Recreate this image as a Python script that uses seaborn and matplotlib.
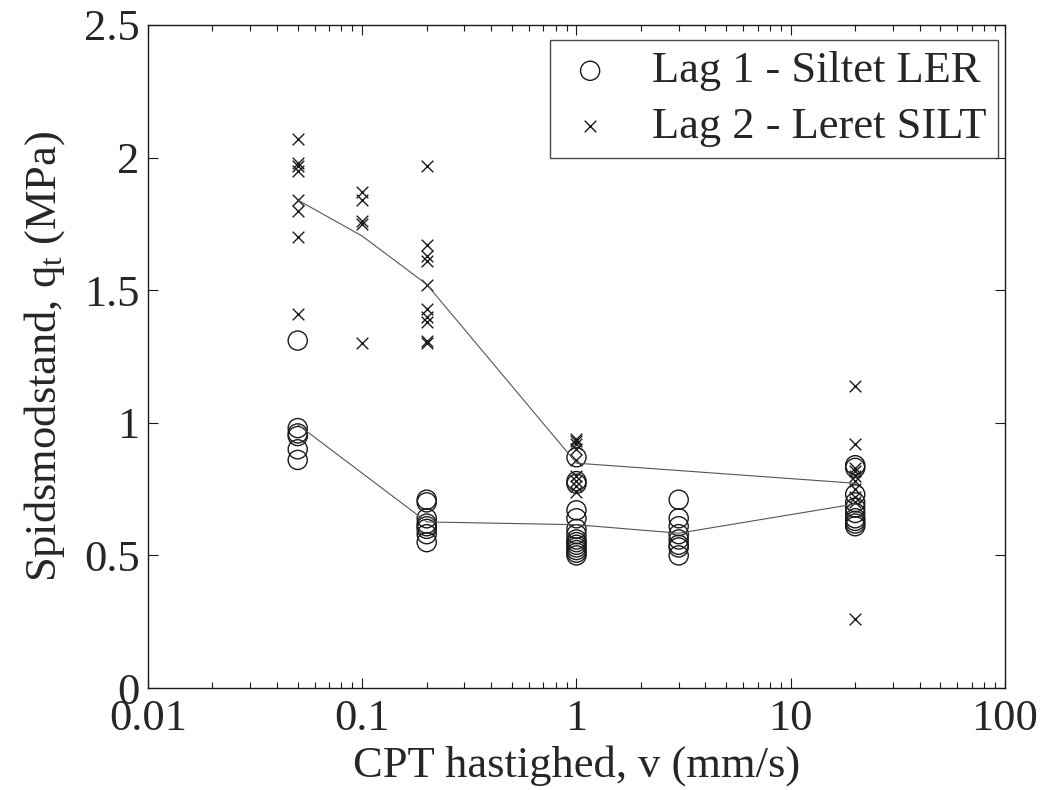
import numpy as np
import pandas as pd
import matplotlib
matplotlib.use("Agg")
import matplotlib.pyplot as plt
import seaborn as sns
from matplotlib.ticker import LogLocator, NullFormatter

# Lag 1 - Siltet LER (circles), measurements per CPT speed
lag1_v = [0.05] * 6 + [0.2] * 8 + [1] * 14 + [3] * 8 + [20] * 10
lag1_qt = [1.31, 0.98, 0.96, 0.95, 0.90, 0.86,
           0.71, 0.70, 0.64, 0.62, 0.61, 0.60, 0.58, 0.55,
           0.87, 0.78, 0.77, 0.67, 0.64, 0.60, 0.58, 0.56, 0.55, 0.54, 0.53, 0.52, 0.51, 0.50,
           0.71, 0.64, 0.61, 0.58, 0.56, 0.54, 0.53, 0.50,
           0.84, 0.83, 0.73, 0.70, 0.68, 0.66, 0.64, 0.63, 0.62, 0.61]

# Lag 2 - Leret SILT (crosses)
lag2_v = [0.05] * 8 + [0.1] * 5 + [0.2] * 10 + [1] * 9 + [20] * 10
lag2_qt = [2.07, 1.98, 1.97, 1.95, 1.84, 1.80, 1.70, 1.41,
           1.87, 1.84, 1.76, 1.75, 1.30,
           1.97, 1.67, 1.63, 1.61, 1.52, 1.43, 1.40, 1.38, 1.31, 1.30,
           0.94, 0.93, 0.92, 0.90, 0.86, 0.80, 0.78, 0.76, 0.74,
           1.14, 0.92, 0.83, 0.82, 0.80, 0.78, 0.75, 0.72, 0.70, 0.26]

lag1 = pd.DataFrame({"v": lag1_v, "qt": lag1_qt})
lag2 = pd.DataFrame({"v": lag2_v, "qt": lag2_qt})

sns.set_theme(style="white")
plt.rcParams["font.family"] = ["Liberation Serif", "DejaVu Serif"]
plt.rcParams["mathtext.fontset"] = "custom"
plt.rcParams["mathtext.rm"] = "Liberation Serif"
plt.rcParams["mathtext.it"] = "Liberation Serif"

fs = 32

fig = plt.figure(figsize=(10.45, 7.9), dpi=100)
ax = fig.add_axes([0.1416, 0.1291, 0.8201, 0.8393])

# mean lines
sns.lineplot(data=lag1, x="v", y="qt", estimator="mean", errorbar=None,
             color="#555555", lw=0.8, ax=ax, legend=False)
sns.lineplot(data=lag2, x="v", y="qt", estimator="mean", errorbar=None,
             color="#555555", lw=0.8, ax=ax, legend=False)

sns.scatterplot(data=lag1, x="v", y="qt", marker="o", s=190, facecolor="none",
                edgecolor="k", linewidth=1.0, ax=ax, label="Lag 1 - Siltet LER")
sns.scatterplot(data=lag2, x="v", y="qt", marker="x", s=70, color="k",
                linewidth=1.0, ax=ax, label="Lag 2 - Leret SILT")

ax.set_xscale("log")
ax.set_xlim(0.01, 100)
ax.set_ylim(0, 2.5)
ax.set_xticks([0.01, 0.1, 1, 10, 100])
ax.set_xticklabels(["0.01", "0.1", "1", "10", "100"])
ax.xaxis.set_minor_locator(LogLocator(base=10, subs=np.arange(2, 10)))
ax.xaxis.set_minor_formatter(NullFormatter())
ax.set_yticks([0, 0.5, 1, 1.5, 2, 2.5])
ax.set_yticklabels(["0", "0.5", "1", "1.5", "2", "2.5"])

ax.tick_params(which="both", direction="in", top=True, right=True,
               bottom=True, left=True, labelsize=fs, color="k")
ax.tick_params(axis="x", pad=8)
ax.tick_params(axis="y", pad=6)
ax.tick_params(which="major", length=7, width=0.8)
ax.tick_params(which="minor", length=4, width=0.8)
for s in ax.spines.values():
    s.set_color("k")
    s.set_linewidth(1.0)

ax.set_xlabel("CPT hastighed, v (mm/s)", fontsize=fs, labelpad=4)
ax.set_ylabel("Spidsmodstand, q$_\\mathregular{t}$ (MPa)", fontsize=fs, labelpad=12)

leg = ax.legend(loc="upper right", bbox_to_anchor=(0.9918, 0.977),
                fontsize=fs, frameon=True, fancybox=False,
                edgecolor="k", borderaxespad=0, handletextpad=0.75,
                borderpad=0.25, labelspacing=0.35, handlelength=1.3)
leg.get_frame().set_linewidth(1.0)

fig.savefig("out.png", dpi=100, facecolor="white")
